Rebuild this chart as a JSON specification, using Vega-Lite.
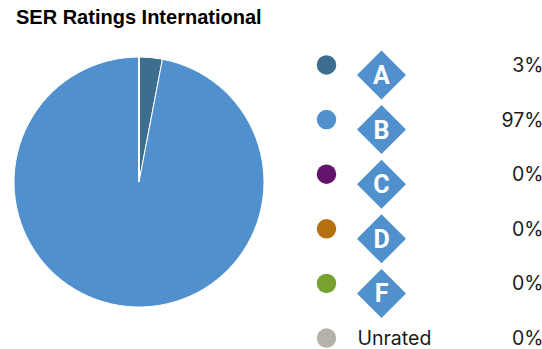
{
  "$schema": "https://vega.github.io/schema/vega-lite/v6.json",
  "background": "white",
  "padding": {"left": 12, "top": 8, "right": 0, "bottom": 0},
  "title": {"text": "SER Ratings International", "anchor": "start", "dx": 4, "offset": 22, "font": "Liberation Sans", "fontSize": 20, "fontWeight": "bold", "color": "#000000"},
  "datasets": {
    "ratings": [
      {"grade": "A", "share": 0.03},
      {"grade": "B", "share": 0.97},
      {"grade": "C", "share": 0},
      {"grade": "D", "share": 0},
      {"grade": "F", "share": 0},
      {"grade": "Unrated", "share": 0}
    ]
  },
  "config": {"view": {"stroke": null}},
  "spacing": 33,
  "hconcat": [
    {
      "width": 250,
      "height": 250,
      "data": {"name": "ratings"},
      "mark": {"type": "arc", "outerRadius": 125, "stroke": "white", "strokeWidth": 1},
      "encoding": {
        "theta": {"field": "share", "type": "quantitative", "stack": true},
        "order": {"field": "grade"},
        "color": {
          "field": "grade",
          "type": "nominal",
          "legend": null,
          "scale": {
            "domain": ["A", "B", "C", "D", "F", "Unrated"],
            "range": ["#3b6e8f", "#5091cd", "#62136c", "#b5710f", "#78a22f", "#b7b2a9"]
          }
        }
      }
    },
    {
      "width": 275,
      "height": 289,
      "data": {"name": "ratings"},
      "encoding": {
        "y": {
          "field": "grade",
          "type": "nominal",
          "axis": null,
          "scale": {"type": "point", "padding": 0.146, "domain": ["A", "B", "C", "D", "F", "Unrated"]}
        }
      },
      "layer": [
        {
          "mark": {"type": "point", "shape": "circle", "filled": true, "size": 380, "opacity": 1},
          "encoding": {
            "x": {"datum": "swatch", "axis": null, "scale": {"type": "point", "padding": 0.5, "domain": ["swatch", "grade", "gap1", "gap2", "value"]}},
            "color": {
              "field": "grade",
              "type": "nominal",
              "legend": null,
              "scale": {
                "domain": ["A", "B", "C", "D", "F", "Unrated"],
                "range": ["#3b6e8f", "#5091cd", "#62136c", "#b5710f", "#78a22f", "#b7b2a9"]
              }
            }
          }
        },
        {
          "transform": [{"filter": "datum.grade !== 'Unrated'"}],
          "mark": {"type": "point", "shape": "diamond", "filled": true, "size": 2401, "opacity": 1, "color": "#5091cd", "yOffset": 10},
          "encoding": {"x": {"datum": "grade"}}
        },
        {
          "transform": [{"filter": "datum.grade !== 'Unrated'"}],
          "mark": {"type": "text", "font": "Roboto", "fontWeight": "bold", "fontSize": 25, "color": "white", "yOffset": 10, "dy": 1},
          "encoding": {"x": {"datum": "grade"}, "text": {"field": "grade"}}
        },
        {
          "transform": [{"filter": "datum.grade === 'Unrated'"}],
          "mark": {"type": "text", "font": "Inter", "fontSize": 19.5, "color": "#1a1a1a", "align": "left", "dx": -24, "dy": 1},
          "encoding": {"x": {"datum": "grade"}, "text": {"field": "grade"}}
        },
        {
          "mark": {"type": "text", "font": "Inter", "fontSize": 19.5, "color": "#1a1a1a", "align": "right", "dx": -3, "dy": 1},
          "encoding": {"x": {"datum": "value"}, "text": {"field": "share", "format": ".0%"}}
        }
      ]
    }
  ]
}
